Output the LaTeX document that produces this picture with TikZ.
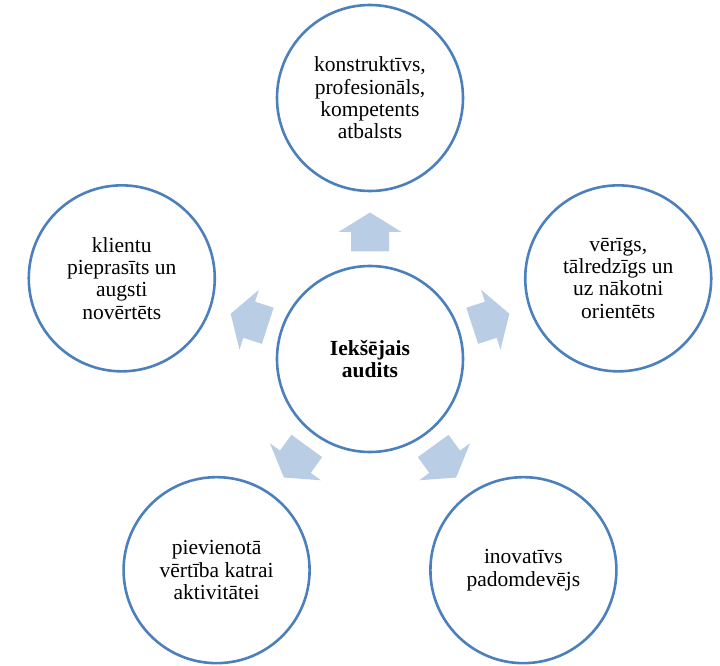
\documentclass[tikz,border=0pt]{standalone}
\usepackage{fontspec}
\setmainfont{Liberation Serif}
\usepackage{tikz}
\usetikzlibrary{positioning,calc}

\definecolor{ringblue}{RGB}{76,128,189}
\definecolor{arrowblue}{RGB}{185,205,229}

\tikzset{
  ring/.style={circle,draw=ringblue,line width=2.6pt,fill=white,
    minimum size=186pt,inner sep=0pt,align=center,
    font=\fontsize{21.5}{22.3}\selectfont},
  blockarrow/.style={fill=arrowblue,draw=none}
}

\begin{document}
\begin{tikzpicture}[x=1pt,y=1pt]
\useasboundingbox (0,0) rectangle (720,665);
% centre
\node[ring,font=\fontsize{21.5}{22.3}\selectfont\bfseries] (audits) at (370,306) {Iekšējais\\audits};
% outer ring
\node[ring] (atbalsts) at ($(audits)+(90:261)$) {konstruktīvs,\\profesionāls,\\kompetents\\atbalsts};
\node[ring] (orientets) at ($(audits)+(18:261)$) {vērīgs,\\tālredzīgs un\\uz nākotni\\orientēts};
\node[ring] (padomdevejs) at ($(audits)+(-54:261)$) {inovatīvs\\padomdevējs};
\node[ring] (aktivitatei) at ($(audits)+(-126:261)$) {pievienotā\\vērtība katrai\\aktivitātei};
\node[ring] (novertets) at ($(audits)+(162:261)$) {klientu\\pieprasīts un\\augsti\\novērtēts};
% block arrows
\foreach \a in {90,18,-54,-126,162}
  \fill[blockarrow,shift={(audits.center)},rotate=\a]
    (107.5,-19) -- (127,-19) -- (127,-31.5) -- (146.5,0)
    -- (127,31.5) -- (127,19) -- (107.5,19) -- cycle;
\end{tikzpicture}
\end{document}
